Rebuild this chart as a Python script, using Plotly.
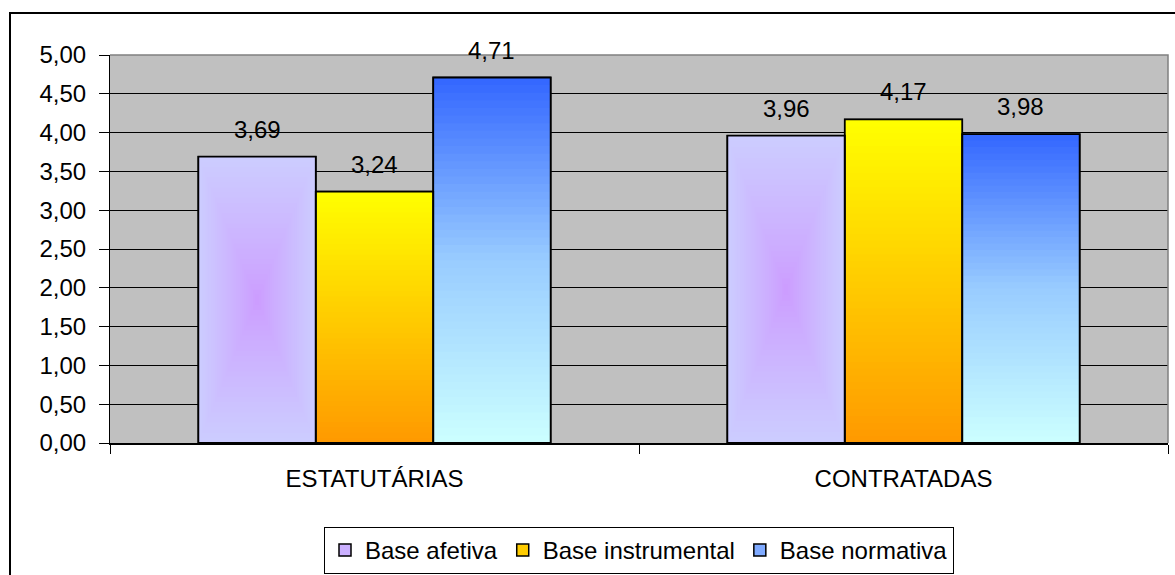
import plotly.graph_objects as go

# ---- data -------------------------------------------------------------
categories = ["ESTATUTÁRIAS", "CONTRATADAS"]
series_names = ["Base afetiva", "Base instrumental", "Base normativa"]
afetiva = [3.69, 3.96]
instrumental = [3.24, 4.17]
normativa = [4.71, 3.98]
y_ticks = [0, 0.5, 1, 1.5, 2, 2.5, 3, 3.5, 4, 4.5, 5]

# ---- style ------------------------------------------------------------
FONT = "Liberation Sans, Arial, sans-serif"
FSIZE = 24
BAR_W = 0.222                       # bar width in category units
OFFSETS = [-BAR_W, 0.0, BAR_W]      # centre shift of each series in a group

# afetiva: rectangular "from centre" gradient
AFE_CENTER, AFE_EDGE = "#CC99FF", "#CCCCFF"
# instrumental / normativa: vertical gradients (bottom -> top)
INS_STOPS = ["#FF9900", "#FFCC00", "#FFFF00"]
NOR_STOPS = ["#CCFFFF", "#99CCFF", "#3366FF"]
LEGEND_COLORS = ["#CBB0FF", "#FFCC00", "#7FAAFF"]


def hex_rgb(h):
    h = h.lstrip("#")
    return [int(h[i:i + 2], 16) for i in (0, 2, 4)]


def lerp(c0, c1, t):
    a, b = hex_rgb(c0), hex_rgb(c1)
    return "rgb({},{},{})".format(*[round(a[i] + (b[i] - a[i]) * t) for i in range(3)])


def multi_stop(stops, t):
    n = len(stops) - 1
    seg = min(int(t * n), n - 1)
    return lerp(stops[seg], stops[seg + 1], t * n - seg)


fig = go.Figure()
series_vals = [afetiva, instrumental, normativa]

# legend entries (solid body with outline; covered by the gradients)
for name, vals, off, col in zip(series_names, series_vals, OFFSETS, LEGEND_COLORS):
    fig.add_trace(go.Bar(
        x=categories, y=vals, width=BAR_W, offset=off - BAR_W / 2,
        name=name, marker=dict(color=col, line=dict(color="black", width=1.5)),
        hoverinfo="skip", showlegend=True,
    ))

# afetiva gradient: nested rectangles shrinking toward the bar centre
N_RECT = 28
for k in range(N_RECT, 0, -1):
    frac = k / N_RECT
    w = BAR_W * frac
    fig.add_trace(go.Bar(
        x=categories,
        y=[v * frac for v in afetiva],
        base=[v * (1 - frac) / 2 for v in afetiva],
        width=w, offset=OFFSETS[0] - w / 2,
        marker=dict(color=lerp(AFE_CENTER, AFE_EDGE, frac ** 0.8), line=dict(width=0)),
        hoverinfo="skip", showlegend=False,
    ))

# vertical gradients for the other two series: stacked thin slices
N_SLICE = 48
for vals, off, stops in ((instrumental, OFFSETS[1], INS_STOPS),
                         (normativa, OFFSETS[2], NOR_STOPS)):
    for k in range(N_SLICE):
        bases = [v * k / N_SLICE for v in vals]
        heights = [min(v * 1.6 / N_SLICE, v - b) for v, b in zip(vals, bases)]
        fig.add_trace(go.Bar(
            x=categories, y=heights, base=bases,
            width=BAR_W, offset=off - BAR_W / 2,
            marker=dict(color=multi_stop(stops, (k + 0.5) / N_SLICE), line=dict(width=0)),
            hoverinfo="skip", showlegend=False,
        ))

# crisp outlines on top
for vals, off in zip(series_vals, OFFSETS):
    fig.add_trace(go.Bar(
        x=categories, y=vals, width=BAR_W, offset=off - BAR_W / 2,
        marker=dict(color="rgba(0,0,0,0)", line=dict(color="black", width=1.8)),
        hoverinfo="skip", showlegend=False,
    ))

# value labels above the bars
annotations = []
for vals, off in zip(series_vals, OFFSETS):
    for i, v in enumerate(vals):
        annotations.append(dict(
            x=i + off, y=v, xref="x", yref="y",
            text=f"{v:.2f}".replace(".", ","), showarrow=False,
            yanchor="bottom", yshift=12,
            font=dict(family=FONT, size=FSIZE, color="black"),
        ))

L, R, T, B = 110, 7, 55, 132
PW, PH = 1175 - L - R, 575 - T - B

fig.update_layout(
    width=1175, height=575,
    margin=dict(l=L, r=R, t=T, b=B, pad=0, autoexpand=False),
    paper_bgcolor="white", plot_bgcolor="#C0C0C0",
    barmode="overlay", separators=",.",
    font=dict(family=FONT, size=FSIZE, color="black"),
    annotations=annotations,
    legend=dict(
        orientation="h", x=0.5, xanchor="center", y=(-(527 - (T + PH)) / PH), yanchor="top",
        bgcolor="white", bordercolor="black", borderwidth=1,
        font=dict(family=FONT, size=FSIZE, color="black"),
        itemwidth=30, tracegroupgap=0,
    ),
    xaxis=dict(
        type="category", range=[-0.5, 1.5], tickson="boundaries",
        ticks="outside", ticklen=9, tickcolor="black", tickwidth=1,
        showline=True, linecolor="black", linewidth=1.5,
        showgrid=False, zeroline=False, ticklabelstandoff=13,
        tickfont=dict(family=FONT, size=FSIZE, color="black"),
    ),
    yaxis=dict(
        range=[0, 5], tickvals=y_ticks, tickformat=".2f",
        ticks="outside", ticklen=10, tickcolor="black", tickwidth=1,
        showline=True, linecolor="black", linewidth=1,
        showgrid=True, gridcolor="black", gridwidth=1, zeroline=False,
        ticklabelstandoff=8,
        tickfont=dict(family=FONT, size=FSIZE, color="black"),
    ),
    shapes=[
        # outer chart frame (extends past the right and bottom edges)
        dict(type="rect", xref="paper", yref="paper",
             x0=(10 - L) / PW, x1=(1185 - L) / PW,
             y0=-(585 - (T + PH)) / PH, y1=(T + PH - 13) / PH,
             line=dict(color="black", width=2), fillcolor="rgba(0,0,0,0)", layer="above"),
        # grey plot-area border on top and right
        dict(type="path", xref="paper", yref="paper", path="M 0,1 L 1,1 L 1,0",
             line=dict(color="#808080", width=1.5), layer="above"),
    ],
)

fig.write_html("out.html")
